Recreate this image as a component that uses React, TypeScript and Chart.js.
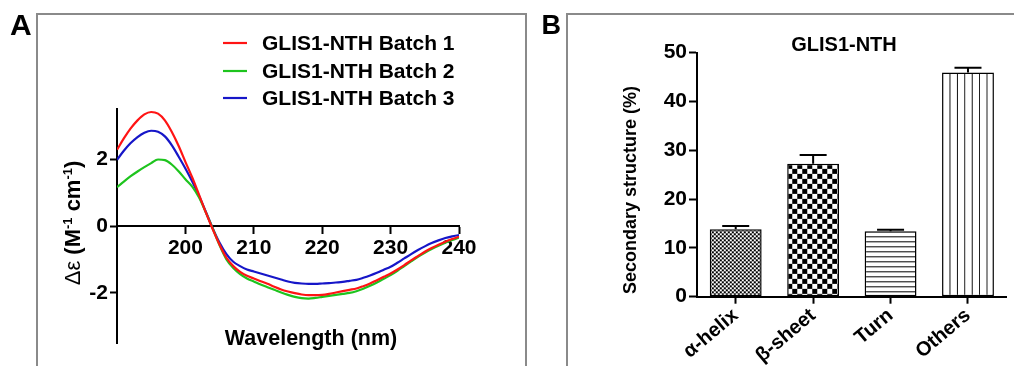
import React, { useEffect, useRef } from "react";
import { Chart, registerables } from "chart.js";

Chart.register(...registerables);

// ---------- Panel A: CD spectra ----------
const WAVELENGTHS = [
  190, 191, 192, 193, 194, 195, 196, 197, 198, 199,
  200, 201, 202, 203, 204, 205, 206, 207, 208, 209,
  210, 211, 212, 213, 214, 215, 216, 217, 218, 219,
  220, 221, 222, 223, 224, 225, 226, 227, 228, 229,
  230, 231, 232, 233, 234, 235, 236, 237, 238, 239, 240,
];
const BATCH1 = [
  2.28, 2.62, 2.92, 3.16, 3.34, 3.41, 3.36, 3.16, 2.82, 2.4,
  1.92, 1.45, 0.93, 0.4, -0.1, -0.56, -0.95, -1.2, -1.37, -1.49,
  -1.57, -1.65, -1.73, -1.82, -1.9, -1.96, -2.01, -2.05, -2.07, -2.07,
  -2.06, -2.03, -1.99, -1.95, -1.91, -1.87, -1.8, -1.72, -1.62, -1.52,
  -1.42, -1.3, -1.17, -1.03, -0.9, -0.77, -0.66, -0.56, -0.47, -0.39, -0.32,
];
const BATCH2 = [
  1.16, 1.33, 1.49, 1.63, 1.76, 1.88, 1.99, 1.97, 1.84, 1.64,
  1.4, 1.18, 0.85, 0.4, -0.08, -0.58, -1.0, -1.26, -1.44, -1.57,
  -1.66, -1.75, -1.83, -1.91, -1.99, -2.06, -2.12, -2.16, -2.17, -2.15,
  -2.12, -2.09, -2.06, -2.03, -2.0, -1.95, -1.88, -1.79, -1.69, -1.58,
  -1.47, -1.34, -1.2, -1.06, -0.92, -0.8, -0.69, -0.59, -0.5, -0.42, -0.35,
];
const BATCH3 = [
  1.98, 2.25, 2.48, 2.66, 2.79, 2.85, 2.82, 2.68, 2.42, 2.08,
  1.72, 1.33, 0.9, 0.42, -0.07, -0.5, -0.84, -1.07, -1.2, -1.3,
  -1.36, -1.42, -1.48, -1.54, -1.6, -1.66, -1.7, -1.72, -1.73, -1.73,
  -1.72, -1.71, -1.69, -1.67, -1.64, -1.61, -1.55, -1.48, -1.4, -1.31,
  -1.22, -1.1, -0.97, -0.84, -0.72, -0.61, -0.51, -0.43, -0.36, -0.31, -0.27,
];
const SERIES_LABELS = ["GLIS1-NTH Batch 1", "GLIS1-NTH Batch 2", "GLIS1-NTH Batch 3"];
const SERIES_COLORS = ["#ff1414", "#1ec41e", "#1616c8"];
const CD_TICKS_X = [200, 210, 220, 230, 240];
const CD_TICKS_Y = [-2, 0, 2];

// ---------- Panel B: secondary structure ----------
const STRUCT_CATEGORIES = ["α-helix", "β-sheet", "Turn", "Others"];
const STRUCT_VALUES = [13.8, 27.2, 13.4, 45.9];
const STRUCT_ERRORS = [0.7, 1.8, 0.3, 1.0];

const FONT = "'Liberation Sans', Arial, Helvetica, sans-serif";
const FRAME_COLOR = "#8a8a8a";

function makeTile(w: number, h: number, draw: (c: CanvasRenderingContext2D) => void) {
  const t = document.createElement("canvas");
  t.width = w;
  t.height = h;
  const c = t.getContext("2d")!;
  c.fillStyle = "#fff";
  c.fillRect(0, 0, w, h);
  c.fillStyle = "#000";
  draw(c);
  return t;
}

function CdChart() {
  const ref = useRef<HTMLCanvasElement>(null);
  useEffect(() => {
    const decor = {
      id: "decorA",
      afterDraw(chart: any) {
        const ctx = chart.ctx as CanvasRenderingContext2D;
        ctx.save();
        // frame
        ctx.strokeStyle = FRAME_COLOR;
        ctx.lineWidth = 2;
        ctx.beginPath();
        ctx.moveTo(37, 366);
        ctx.lineTo(37, 14);
        ctx.lineTo(526, 14);
        ctx.lineTo(526, 366);
        ctx.stroke();
        // panel letter
        ctx.fillStyle = "#000";
        ctx.font = `bold 30px ${FONT}`;
        ctx.textAlign = "left";
        ctx.textBaseline = "alphabetic";
        ctx.fillText("A", 10, 35);
        // legend
        const rows = [43, 71, 98];
        chart.data.datasets.forEach((ds: any, i: number) => {
          ctx.strokeStyle = ds.borderColor;
          ctx.lineWidth = 2.2;
          ctx.beginPath();
          ctx.moveTo(223, rows[i]);
          ctx.lineTo(247, rows[i]);
          ctx.stroke();
          ctx.fillStyle = "#000";
          ctx.font = `bold 21px ${FONT}`;
          ctx.textAlign = "left";
          ctx.textBaseline = "middle";
          ctx.fillText(ds.label, 262, rows[i] + 1);
        });
        // x title
        ctx.font = `bold 21.5px ${FONT}`;
        ctx.textAlign = "center";
        ctx.textBaseline = "middle";
        ctx.fillText("Wavelength (nm)", 311, 339);
        // y title with superscripts
        const pieces: { t: string; f: string; dy: number }[] = [
          { t: "Δε", f: `22px ${FONT}`, dy: 0 },
          { t: " (M", f: `bold 22px ${FONT}`, dy: 0 },
          { t: "-1", f: `bold 13px ${FONT}`, dy: -8 },
          { t: " cm", f: `bold 22px ${FONT}`, dy: 0 },
          { t: "-1", f: `bold 13px ${FONT}`, dy: -8 },
          { t: ")", f: `bold 22px ${FONT}`, dy: 0 },
        ];
        let total = 0;
        const widths = pieces.map((p) => {
          ctx.font = p.f;
          const w = ctx.measureText(p.t).width;
          total += w;
          return w;
        });
        ctx.translate(72, 223);
        ctx.rotate(-Math.PI / 2);
        ctx.textAlign = "left";
        ctx.textBaseline = "alphabetic";
        let x = -total / 2;
        pieces.forEach((p, i) => {
          ctx.font = p.f;
          ctx.fillText(p.t, x, 8 + p.dy);
          x += widths[i];
        });
        ctx.restore();
      },
    };
    const chart = new Chart(ref.current!, {
      type: "line",
      data: {
        datasets: [BATCH1, BATCH2, BATCH3].map((arr, i) => ({
          label: SERIES_LABELS[i],
          data: WAVELENGTHS.map((w, j) => ({ x: w, y: arr[j] })),
          borderColor: SERIES_COLORS[i],
          backgroundColor: SERIES_COLORS[i],
          borderWidth: 2.2,
          pointRadius: 0,
          cubicInterpolationMode: "monotone" as const,
          fill: false,
        })),
      },
      options: {
        animation: false,
        responsive: false,
        maintainAspectRatio: false,
        layout: { padding: { left: 0, top: 109, right: 71, bottom: 23 } },
        plugins: { legend: { display: false }, tooltip: { enabled: false }, title: { display: false } },
        scales: {
          x: {
            type: "linear",
            min: 190,
            max: 240,
            position: { y: 0 } as any,
            afterBuildTicks: (s: any) => {
              s.ticks = CD_TICKS_X.map((v) => ({ value: v }));
            },
            grid: { drawOnChartArea: false, tickLength: 7, tickWidth: 2, tickColor: "#000" },
            border: { color: "#000", width: 2 },
            ticks: {
              color: "#000",
              font: { family: FONT, size: 21, weight: "bold" },
              padding: 3,
              maxRotation: 0,
              autoSkip: false,
            },
          },
          y: {
            type: "linear",
            min: -3.5,
            max: 3.5,
            position: "left",
            afterBuildTicks: (s: any) => {
              s.ticks = CD_TICKS_Y.map((v) => ({ value: v }));
            },
            afterFit: (s: any) => {
              s.width = 117;
            },
            grid: { drawOnChartArea: false, tickLength: 7, tickWidth: 2, tickColor: "#000" },
            border: { color: "#000", width: 2 },
            ticks: {
              color: "#000",
              font: { family: FONT, size: 21, weight: "bold" },
              padding: 2,
            },
          },
        },
      },
      plugins: [decor],
    });
    return () => chart.destroy();
  }, []);
  return (
    <canvas
      ref={ref}
      width={530}
      height={366}
      style={{ position: "absolute", left: 0, top: 0, width: 530, height: 366 }}
    />
  );
}

function StructChart() {
  const ref = useRef<HTMLCanvasElement>(null);
  useEffect(() => {
    const canvas = ref.current!;
    const ctx0 = canvas.getContext("2d")!;
    const tiles = [
      makeTile(4, 4, (c) => {
        c.fillRect(0, 0, 2, 2);
        c.fillRect(2, 2, 2, 2);
      }),
      makeTile(10, 10, (c) => {
        c.fillRect(0, 0, 5, 5);
        c.fillRect(5, 5, 5, 5);
      }),
      makeTile(8, 5, (c) => {
        c.fillRect(0, 0, 8, 1);
      }),
      makeTile(8, 8, (c) => {
        c.fillRect(0, 0, 1, 8);
      }),
    ];
    const patterns = tiles.map((t) => ctx0.createPattern(t, "repeat")!);

    const alignPatterns = {
      id: "alignPatterns",
      beforeDatasetsDraw(chart: any) {
        const meta = chart.getDatasetMeta(0);
        meta.data.forEach((bar: any, i: number) => {
          const left = bar.x - bar.width / 2;
          const top = bar.y;
          const m = new DOMMatrix();
          m.translateSelf(left, top);
          if (i === 3) m.scaleSelf(bar.width / 7 / 8, 1);
          try {
            patterns[i].setTransform(m);
          } catch (e) {
            /* ignore */
          }
        });
      },
    };

    const decor = {
      id: "decorB",
      afterDatasetsDraw(chart: any) {
        const ctx = chart.ctx as CanvasRenderingContext2D;
        const meta = chart.getDatasetMeta(0);
        const yScale = chart.scales.y;
        ctx.save();
        ctx.strokeStyle = "#000";
        ctx.lineWidth = 2;
        meta.data.forEach((bar: any, i: number) => {
          const yTop = yScale.getPixelForValue(STRUCT_VALUES[i] + STRUCT_ERRORS[i]);
          ctx.beginPath();
          ctx.moveTo(bar.x, bar.y);
          ctx.lineTo(bar.x, yTop);
          ctx.moveTo(bar.x - 13.5, yTop);
          ctx.lineTo(bar.x + 13.5, yTop);
          ctx.stroke();
        });
        ctx.restore();
      },
      afterDraw(chart: any) {
        const ctx = chart.ctx as CanvasRenderingContext2D;
        ctx.save();
        ctx.strokeStyle = FRAME_COLOR;
        ctx.lineWidth = 2;
        ctx.beginPath();
        ctx.moveTo(37, 366);
        ctx.lineTo(37, 14);
        ctx.lineTo(484, 14);
        ctx.stroke();
        ctx.fillStyle = "#000";
        ctx.font = `bold 27px ${FONT}`;
        ctx.textAlign = "left";
        ctx.textBaseline = "alphabetic";
        ctx.fillText("B", 11.5, 33.5);
        ctx.font = `bold 20px ${FONT}`;
        ctx.textAlign = "center";
        ctx.textBaseline = "middle";
        ctx.fillText("GLIS1-NTH", 314, 45);
        ctx.translate(101, 190);
        ctx.rotate(-Math.PI / 2);
        ctx.font = `bold 18px ${FONT}`;
        ctx.fillText("Secondary structure (%)", 0, 0);
        ctx.restore();
      },
    };

    const chart = new Chart(canvas, {
      type: "bar",
      data: {
        labels: STRUCT_CATEGORIES,
        datasets: [
          {
            label: "GLIS1-NTH",
            data: STRUCT_VALUES,
            backgroundColor: patterns as any,
            borderColor: "#000",
            borderWidth: 1.5,
            borderSkipped: false,
            categoryPercentage: 1,
            barPercentage: 0.67,
          },
        ],
      },
      options: {
        animation: false,
        responsive: false,
        maintainAspectRatio: false,
        layout: { padding: { left: 0, top: 52.5, right: 7.3, bottom: 0 } },
        plugins: { legend: { display: false }, tooltip: { enabled: false }, title: { display: false } },
        scales: {
          x: {
            type: "category",
            offset: true,
            afterFit: (s: any) => {
              s.height = 69.3;
            },
            grid: { offset: false, drawOnChartArea: false, tickLength: 7, tickWidth: 2, tickColor: "#000" },
            border: { color: "#000", width: 2 },
            ticks: {
              color: "#000",
              font: { family: FONT, size: 20, weight: "bold" },
              minRotation: 40,
              maxRotation: 40,
              padding: 0,
              autoSkip: false,
            },
          },
          y: {
            type: "linear",
            min: 0,
            max: 50,
            afterFit: (s: any) => {
              s.width = 167;
            },
            grid: { drawOnChartArea: false, tickLength: 8, tickWidth: 2, tickColor: "#000" },
            border: { color: "#000", width: 2 },
            ticks: {
              stepSize: 10,
              color: "#000",
              font: { family: FONT, size: 21, weight: "bold" },
              padding: 2,
            },
          },
        },
      },
      plugins: [alignPatterns, decor],
    });
    return () => chart.destroy();
  }, []);
  return (
    <canvas
      ref={ref}
      width={484}
      height={366}
      style={{ position: "absolute", left: 530, top: 0, width: 484, height: 366 }}
    />
  );
}

export default function App() {
  return (
    <div
      style={{
        position: "fixed",
        left: 0,
        top: 0,
        width: 1014,
        height: 366,
        background: "#fff",
        overflow: "hidden",
      }}
    >
      <CdChart />
      <StructChart />
    </div>
  );
}
